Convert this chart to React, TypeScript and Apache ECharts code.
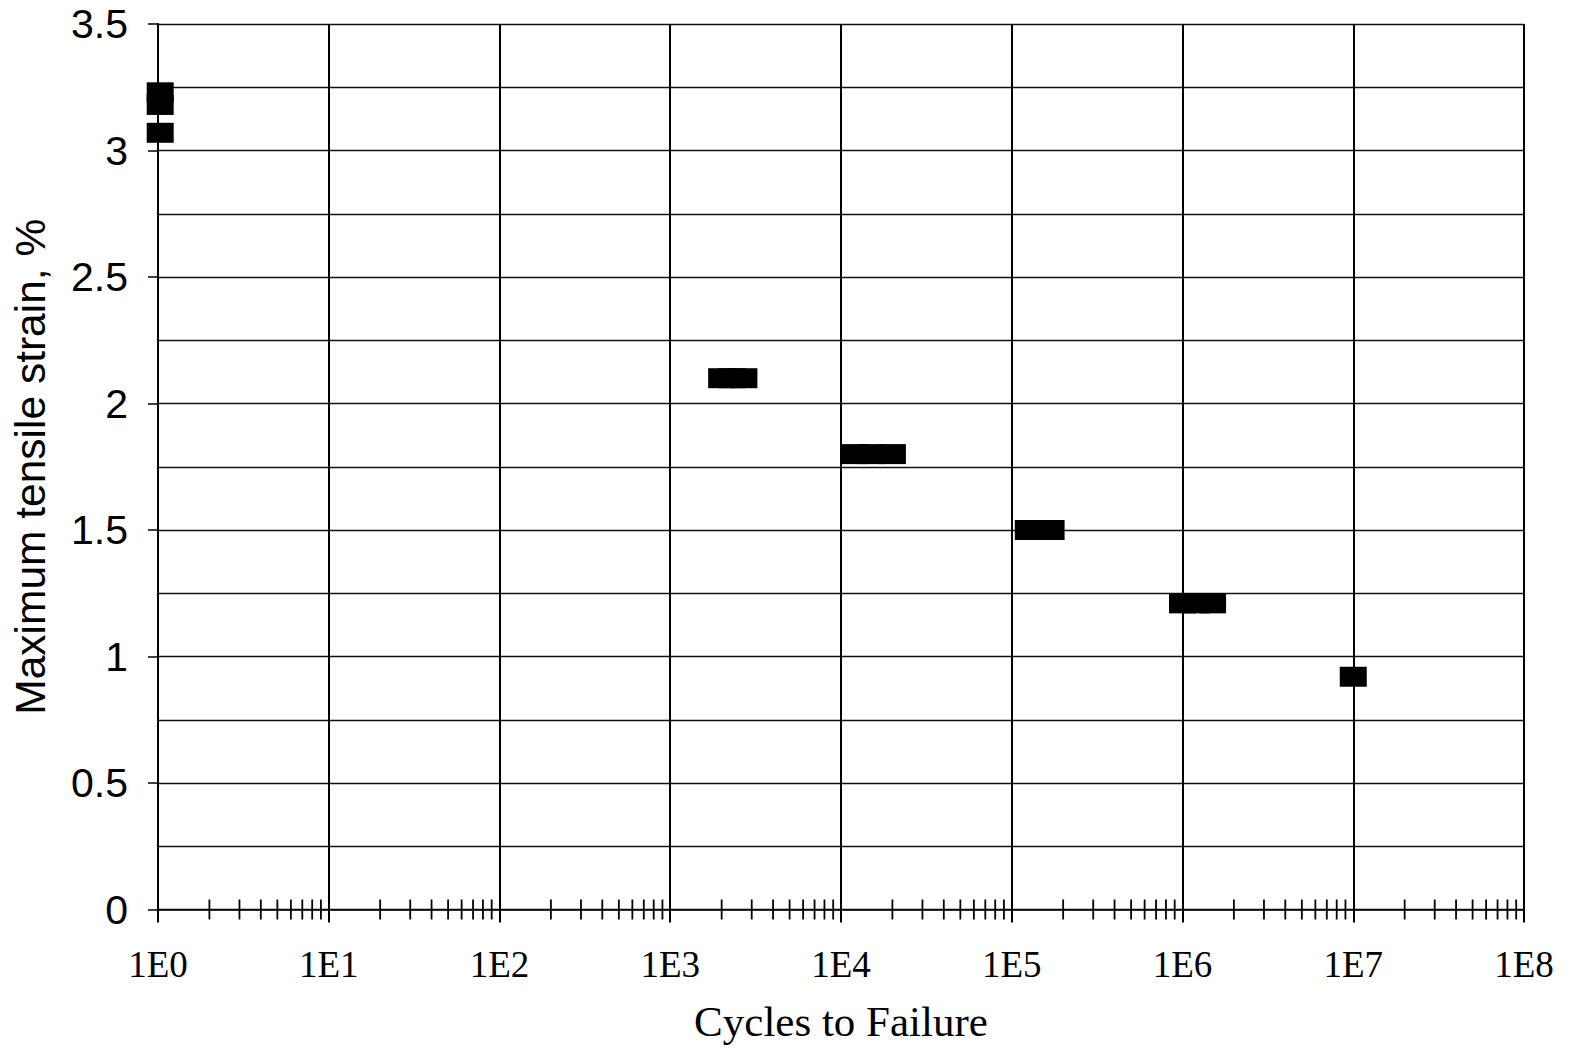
import React, { useEffect, useRef } from "react";
import * as echarts from "echarts";

const xTickLabels = ["1E0", "1E1", "1E2", "1E3", "1E4", "1E5", "1E6", "1E7", "1E8"];
const cycles = [1.03, 1.03, 1.03, 2000, 2300, 2700, 12000, 15000, 20000, 125000, 150000, 170000, 1000000, 1200000, 1500000, 10000000];
const strain = [3.07, 3.18, 3.23, 2.1, 2.1, 2.1, 1.8, 1.8, 1.8, 1.5, 1.5, 1.5, 1.21, 1.21, 1.21, 0.92];
const minorMultipliers = [2, 3, 4, 5, 6, 7, 8, 9];
const decades = [0, 1, 2, 3, 4, 5, 6, 7];

export default function App() {
  const ref = useRef<HTMLDivElement>(null);
  useEffect(() => {
    if (!ref.current) return;
    const chart = echarts.init(ref.current, null, { renderer: "svg" });
    const minorData: number[][] = [];
    decades.forEach((d) => minorMultipliers.forEach((m) => minorData.push([m * Math.pow(10, d), 0])));
    const pts = cycles.map((c, i) => [c, strain[i]]);
    chart.setOption({
      animation: false,
      backgroundColor: "#fff",
      grid: { left: 158, right: 52, top: 24, bottom: 142.5 },
      xAxis: {
        type: "log",
        logBase: 10,
        min: 1,
        max: 1e8,
        splitNumber: 8,
        name: "Cycles to Failure",
        nameLocation: "middle",
        nameGap: 90,
        nameTextStyle: { fontFamily: "Liberation Serif", fontSize: 43, color: "#000" },
        axisLine: { show: true, onZero: false, lineStyle: { color: "#000", width: 1.5 } },
        axisTick: { show: true, length: 13, inside: false, lineStyle: { color: "#000", width: 2 } },
        axisLabel: {
          fontFamily: "Liberation Serif",
          fontSize: 37,
          color: "#000",
          margin: 36,
          formatter: (v: number) => xTickLabels[Math.round(Math.log10(v))] ?? "",
        },
        splitLine: { show: true, lineStyle: { color: "#000", width: 2 } },
      },
      yAxis: {
        type: "value",
        min: 0,
        max: 3.5,
        interval: 0.5,
        name: "Maximum tensile strain, %",
        nameLocation: "middle",
        nameGap: 106,
        nameTextStyle: { fontFamily: "Liberation Sans", fontSize: 42.5, color: "#000" },
        axisLine: { show: true, lineStyle: { color: "#000", width: 2 } },
        axisTick: { show: true, length: 10, inside: false, lineStyle: { color: "#000", width: 1.5 } },
        axisLabel: { fontFamily: "Liberation Sans", fontSize: 41, color: "#000", margin: 30 },
        splitLine: { show: true, lineStyle: { color: "#111", width: 1.3 } },
        minorTick: { show: false, splitNumber: 2 },
        minorSplitLine: { show: true, lineStyle: { color: "#111", width: 1.3 } },
      },
      series: [
        {
          type: "custom",
          silent: true,
          clip: false,
          data: minorData,
          renderItem: (params: any, api: any) => {
            const p = api.coord([api.value(0), api.value(1)]);
            return {
              type: "line",
              shape: { x1: p[0], y1: p[1] - 10, x2: p[0], y2: p[1] + 10 },
              style: { stroke: "#000", lineWidth: 1.8 },
            };
          },
        },
        {
          type: "scatter",
          clip: false,
          symbol: "rect",
          symbolSize: [27, 20],
          itemStyle: { color: "#000", opacity: 1 },
          data: pts,
          z: 5,
        },
      ],
    });
    return () => chart.dispose();
  }, []);
  return <div ref={ref} style={{ position: "fixed", left: 0, top: 0, width: 1576, height: 1052 }} />;
}
